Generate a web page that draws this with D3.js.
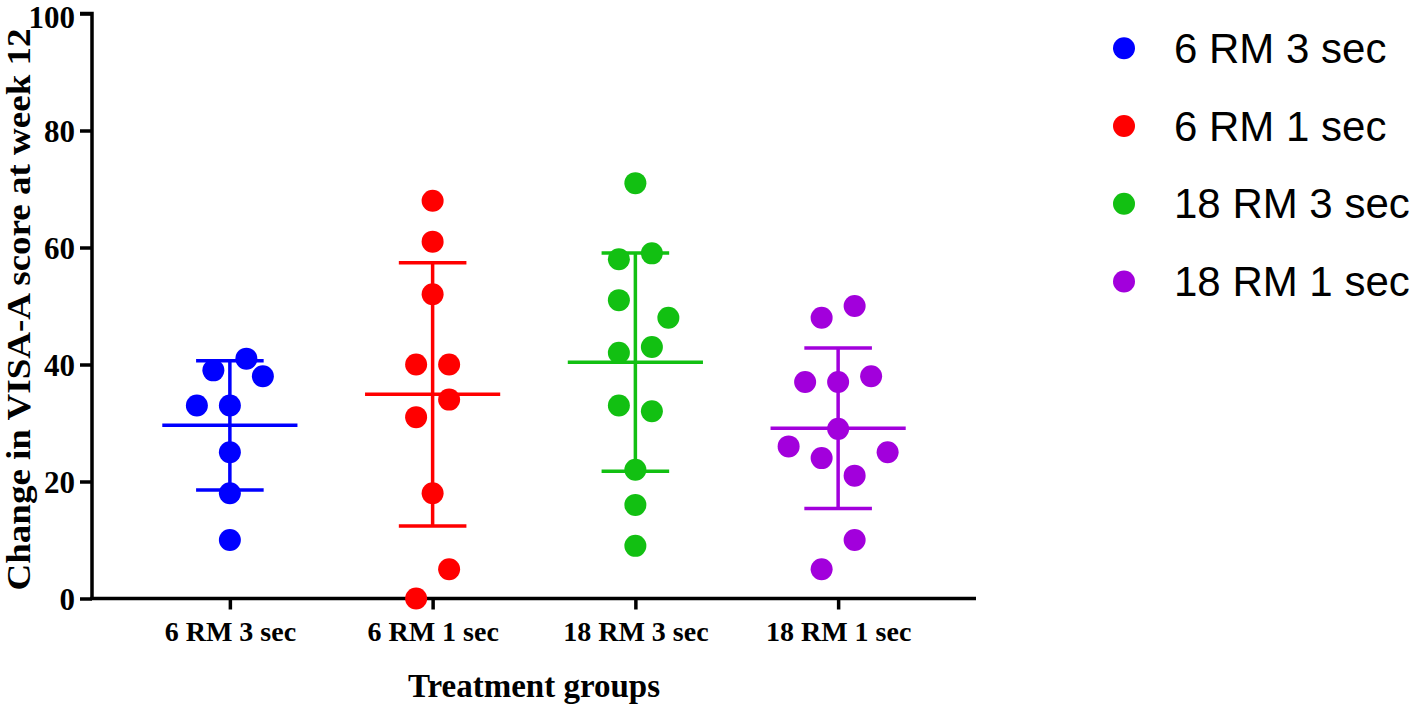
<!DOCTYPE html>
<html>
<head>
<meta charset="utf-8">
<script src="https://cdn.jsdelivr.net/npm/d3@7"></script>
<style>
  html, body { margin: 0; padding: 0; background: #fff; }
  svg { display: block; }
</style>
</head>
<body>
<svg id="chart" width="1418" height="710"></svg>
<script>
// ---- Data ----
const groups = ["6 RM 3 sec", "6 RM 1 sec", "18 RM 3 sec", "18 RM 1 sec"];
const colors = ["#0000FF", "#FF0000", "#12C012", "#A200DC"];

// individual values per group
const values6RM3 = [41, 39, 38, 33, 33, 25, 18, 10];
const values6RM1 = [68, 61, 52, 40, 40, 34, 31, 18, 5, 0];
const values18RM3 = [71, 59, 58, 51, 48, 43, 42, 33, 32, 22, 16, 9];
const values18RM1 = [50, 48, 38, 37, 37, 29, 26, 25, 24, 21, 10, 5];

// horizontal dodge rank of each point (scatter-dot-plot column spread)
const dodge6RM3 = [1, -1, 2, -2, 0, 0, 0, 0];
const dodge6RM1 = [0, 0, 0, -1, 1, 1, -1, 0, 1, -1];
const dodge18RM3 = [0, 1, -1, -1, 2, 1, -1, -1, 1, 0, 0, 0];
const dodge18RM1 = [1, -1, 2, -2, 0, 0, -3, 3, -1, 1, 1, -1];

// mean and SD per group
const means = [29.6, 34.9, 40.4, 29.1];
const sds = [11.05, 22.5, 18.65, 13.7];

const yTicks = [0, 20, 40, 60, 80, 100];
const yTitle = "Change in VISA-A score at week 12";
const xTitle = "Treatment groups";

const allValues = [values6RM3, values6RM1, values18RM3, values18RM1];
const allDodge = [dodge6RM3, dodge6RM1, dodge18RM3, dodge18RM1];

// ---- Layout ----
const svg = d3.select("#chart");
const axisLeft = 92, axisRight = 976, axisTop = 13.5, axisBottom = 598.5;
const r = 11;

const x = d3.scalePoint().domain(groups).range([axisLeft, axisRight]).padding(0.68);
const y = d3.scaleLinear().domain([0, 100]).range([axisBottom, axisTop]);
const step = x.step();
const dodgeScale = d3.scaleLinear().domain([0, 1]).range([0, r * 1.5]);

const serif = "'Liberation Serif', 'Times New Roman', serif";
const sans = "'Liberation Sans', Arial, sans-serif";

// Y axis
const yAxis = d3.axisLeft(y).tickValues(yTicks).tickSize(12).tickPadding(5).tickFormat(d3.format("d"));
const gy = svg.append("g").attr("transform", `translate(${axisLeft},0)`).call(yAxis);
gy.select(".domain").attr("d", `M${-12},${axisTop}H0V${axisBottom}`).attr("stroke", "#000").attr("stroke-width", 3.5).attr("fill", "none");
gy.selectAll(".tick line").attr("stroke", "#000").attr("stroke-width", 3.5);
gy.selectAll(".tick text").attr("font-family", serif).attr("font-weight", "bold")
  .attr("font-size", 31).attr("fill", "#000")
  .attr("dy", d => d === 100 ? "0.46em" : "0.34em");

// X axis
const xAxis = d3.axisBottom(x).tickSize(11).tickPadding(0);
const gx = svg.append("g").attr("transform", `translate(0,${axisBottom})`).call(xAxis);
gx.select(".domain").attr("d", `M${axisLeft - 1.75},0H${axisRight}`).attr("stroke", "#000").attr("stroke-width", 3.5);
gx.selectAll(".tick line").attr("stroke", "#000").attr("stroke-width", 3.5);
gx.selectAll(".tick text").attr("font-family", serif).attr("font-weight", "bold")
  .attr("font-size", 28).attr("fill", "#000").attr("y", 0).attr("dy", 0)
  .attr("transform", "translate(0,42)");

// Axis titles
svg.append("text")
  .attr("transform", `translate(30,309.5) rotate(-90)`)
  .attr("text-anchor", "middle")
  .attr("font-family", serif).attr("font-weight", "bold").attr("font-size", 33)
  .attr("textLength", 562).attr("lengthAdjust", "spacingAndGlyphs")
  .attr("fill", "#000")
  .text(yTitle);

svg.append("text")
  .attr("x", 534).attr("y", 697)
  .attr("text-anchor", "middle")
  .attr("font-family", serif).attr("font-weight", "bold").attr("font-size", 33)
  .attr("fill", "#000")
  .text(xTitle);

// Error bars (mean ± SD)
const meanHalf = step / 3, capHalf = step / 6;
groups.forEach((g, i) => {
  const cx = x(g);
  const eg = svg.append("g").attr("stroke", colors[i]).attr("stroke-width", 3.5).attr("fill", "none");
  eg.append("line").attr("x1", cx).attr("x2", cx).attr("y1", y(means[i] + sds[i])).attr("y2", y(means[i] - sds[i]));
  eg.append("line").attr("x1", cx - meanHalf).attr("x2", cx + meanHalf).attr("y1", y(means[i])).attr("y2", y(means[i]));
  eg.append("line").attr("x1", cx - capHalf).attr("x2", cx + capHalf).attr("y1", y(means[i] + sds[i])).attr("y2", y(means[i] + sds[i]));
  eg.append("line").attr("x1", cx - capHalf).attr("x2", cx + capHalf).attr("y1", y(means[i] - sds[i])).attr("y2", y(means[i] - sds[i]));
});

// Points
groups.forEach((g, i) => {
  const pts = allValues[i].map((v, j) => ({ v, d: allDodge[i][j] }));
  svg.append("g").selectAll("circle").data(pts).join("circle")
    .attr("cx", d => x(g) + dodgeScale(d.d))
    .attr("cy", d => y(d.v))
    .attr("r", r)
    .attr("fill", colors[i]);
});

// Legend
const legendY = d3.scalePoint().domain(groups).range([48.3, 281.5]);
const lg = svg.append("g");
groups.forEach((g, i) => {
  lg.append("circle").attr("cx", 1124).attr("cy", legendY(g)).attr("r", r).attr("fill", colors[i]);
  lg.append("text").attr("x", 1174).attr("y", legendY(g)).attr("dy", "0.35em")
    .attr("font-family", sans).attr("font-size", 42).attr("fill", "#000").text(g);
});
</script>
</body>
</html>
